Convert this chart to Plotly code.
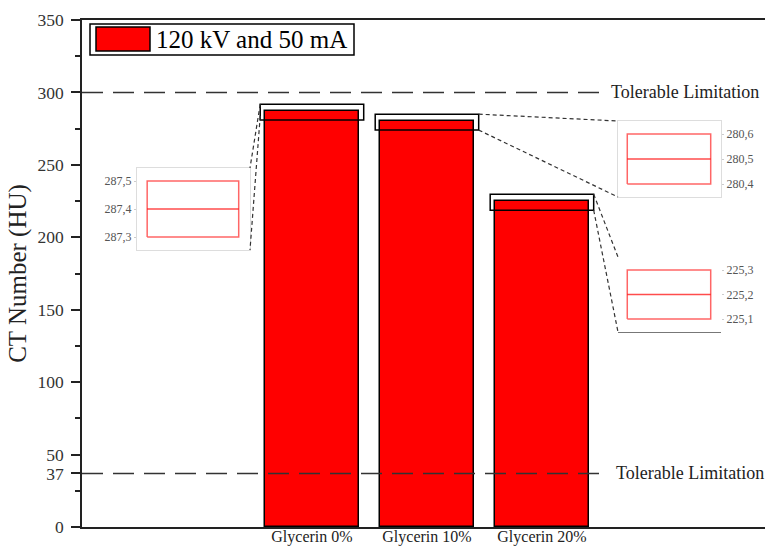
import plotly.graph_objects as go

# ---- data ----
categories = ["Glycerin 0%", "Glycerin 10%", "Glycerin 20%"]
ct_values = [287.4, 280.5, 225.2]
ct_spread = [0.1, 0.1, 0.1]
series_name = "120 kV and 50 mA"
limit_values = [300, 37]
limit_label = "Tolerable Limitation"
y_ticks = [0, 37, 50, 100, 150, 200, 250, 300, 350]
y_minor = [25, 75, 125, 175, 225, 275, 325]

# ---- geometry (pixels of the 765x546 page) ----
W, H = 765, 546
L, R, T, B = 82, 765, 20, 527
XR = [0, 5.94]
YR = [0, 350]
bar_x = [2, 3, 4]
bar_width = 0.81

def dx2px(v):
    return L + (v - XR[0]) / (XR[1] - XR[0]) * (R - L)

def dy2px(v):
    return B - (v - YR[0]) / (YR[1] - YR[0]) * (B - T)

def pxx(p):
    return (p - L) / (R - L)

def pxy(p):
    return (B - p) / (B - T)

FONT = "Liberation Serif"

fig = go.Figure()
fig.add_trace(go.Bar(
    x=bar_x, y=ct_values, width=bar_width, name=series_name,
    marker=dict(color="#FF0000", line=dict(color="black", width=1.5)),
    showlegend=False,
))

shapes = []
annotations = []

# tolerance lines
for lv, tx in zip(limit_values, [4.585, 4.63]):
    shapes.append(dict(type="line", xref="x", yref="y", x0=XR[0], x1=4.55, y0=lv, y1=lv,
                       line=dict(color="#333333", width=1.5, dash="21px,10px"), layer="above"))
    annotations.append(dict(xref="x", yref="y", x=tx, y=lv, text=limit_label, showarrow=False,
                            xanchor="left", yanchor="middle",
                            font=dict(family=FONT, size=18, color="#222222")))

# inset frames (pixel boxes: left, top, right, bottom) and tick side
insets = [
    dict(box=(137, 168, 250, 250), side="left", frame=True),
    dict(box=(618, 121, 721, 197), side="right", frame=True),
    dict(box=(618, 257, 721, 332), side="right", frame=False),
]

for i, (cat_x, val, sp, ins) in enumerate(zip(bar_x, ct_values, ct_spread, insets)):
    # zoom rectangle around the top of each bar
    rx0, rx1 = cat_x - 0.45, cat_x + 0.45
    ry0, ry1 = val - 6.5, val + 4.5
    shapes.append(dict(type="rect", xref="x", yref="y", x0=rx0, x1=rx1, y0=ry0, y1=ry1,
                       line=dict(color="black", width=1.5), fillcolor="rgba(0,0,0,0)", layer="above"))

    l, t, r, b = ins["box"]
    lo, hi = val - sp, val + sp
    span = hi - lo
    pad = 13 / ((b - t) - 26) * span
    xa = f"xaxis{i + 2}"
    ya = f"yaxis{i + 2}"
    xr_, yr_ = f"x{i + 2}", f"y{i + 2}"
    fig.update_layout({
        xa: dict(domain=[pxx(l), pxx(r)], anchor=yr_, range=[0, 1], showticklabels=False,
                 ticks="", showgrid=False, zeroline=False,
                 showline=True, mirror=ins["frame"],
                 linecolor="#dddddd" if ins["frame"] else "#777777", linewidth=1),
        ya: dict(domain=[pxy(b), pxy(t)], anchor=xr_, range=[lo - pad, hi + pad],
                 tickmode="array", tickvals=[lo, val, hi],
                 ticktext=[f"{v:.1f}".replace(".", ",") for v in (lo, val, hi)],
                 side=ins["side"], ticks="outside", ticklen=2, tickcolor="#cccccc",
                 tickfont=dict(family=FONT, size=12, color="#555555"),
                 showgrid=False, zeroline=False,
                 showline=ins["frame"], mirror=ins["frame"], linecolor="#dddddd", linewidth=1),
    })
    # zoomed box: spread band with mean line
    fig.add_trace(go.Scatter(x=[0.09, 0.9, 0.9, 0.09, 0.09], y=[lo, lo, hi, hi, lo],
                             xaxis=xr_, yaxis=yr_, mode="lines",
                             line=dict(color="rgba(255,0,0,0.6)", width=1.5), showlegend=False,
                             hoverinfo="skip"))
    fig.add_trace(go.Scatter(x=[0.09, 0.9], y=[val, val], xaxis=xr_, yaxis=yr_, mode="lines",
                             line=dict(color="rgba(255,0,0,0.7)", width=1.5), showlegend=False,
                             hoverinfo="skip"))

    # dashed connectors from zoom rectangle to inset
    conn = dict(color="#333333", width=1.2, dash="4px,3px")
    if ins["side"] == "left":
        pairs = [((dx2px(rx0), dy2px(ry1)), (r, t)), ((dx2px(rx0), dy2px(ry1) + 12), (r, b))]
    else:
        pairs = [((dx2px(rx1), dy2px(ry1)), (l, t)), ((dx2px(rx1), dy2px(ry0)), (l, b))]
    for (ax, ay), (bx, by) in pairs:
        shapes.append(dict(type="line", xref="paper", yref="paper",
                           x0=pxx(ax), y0=pxy(ay), x1=pxx(bx), y1=pxy(by), line=conn))

# legend box
shapes.append(dict(type="rect", xref="paper", yref="paper", x0=pxx(90), x1=pxx(354),
                   y0=pxy(55), y1=pxy(24), line=dict(color="black", width=1.5),
                   fillcolor="white"))
shapes.append(dict(type="rect", xref="paper", yref="paper", x0=pxx(96), x1=pxx(150),
                   y0=pxy(51), y1=pxy(27), line=dict(color="black", width=1.5),
                   fillcolor="#FF0000"))
annotations.append(dict(xref="paper", yref="paper", x=pxx(154), y=pxy(40), text=series_name,
                        showarrow=False, xanchor="left", yanchor="middle",
                        font=dict(family=FONT, size=25, color="black")))

fig.update_layout(
    width=W, height=H,
    margin=dict(l=L, r=W - R, t=T, b=H - B, autoexpand=False),
    paper_bgcolor="white", plot_bgcolor="white",
    font=dict(family=FONT, color="#222222"),
    bargap=0,
    shapes=shapes,
    annotations=annotations,
    xaxis=dict(range=XR, tickmode="array", tickvals=bar_x, ticktext=categories,
               ticks="", showgrid=False, zeroline=False, ticklabelstandoff=-6,
               showline=True, mirror=True, linecolor="#222222", linewidth=1.5,
               tickfont=dict(family=FONT, size=16, color="#222222")),
    yaxis=dict(range=YR, tickmode="array", tickvals=y_ticks, ticks="outside", ticklen=9,
               tickwidth=1.5, tickcolor="#222222", ticklabelstandoff=4,
               minor=dict(tickmode="array", tickvals=y_minor, ticks="outside", ticklen=5,
                          tickwidth=1.5, tickcolor="#222222"),
               showgrid=False, zeroline=False, showline=True, linecolor="#222222", linewidth=1.5,
               tickfont=dict(family=FONT, size=17.5, color="#333333"),
               title=dict(text="CT Number (HU)", standoff=4,
                          font=dict(family=FONT, size=25, color="#222222"))),
)

fig.write_html("out.html")
